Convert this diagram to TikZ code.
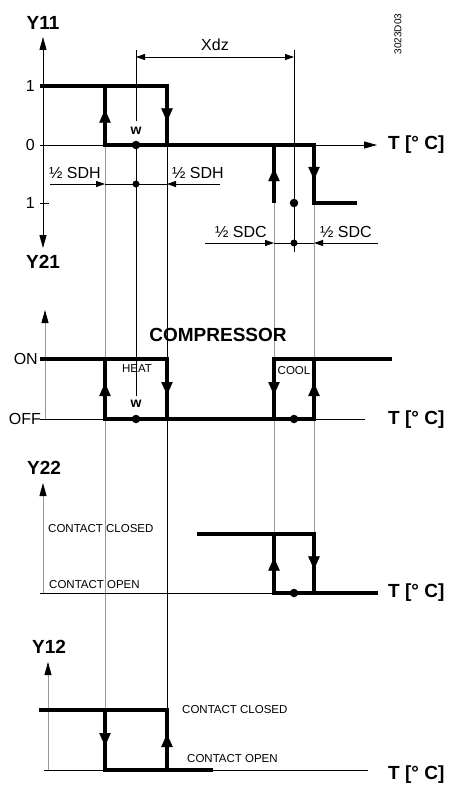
\documentclass[tikz,border=0pt]{standalone}
\usepackage{fontspec}
\setmainfont{Liberation Sans}
\usetikzlibrary{arrows.meta,decorations.markings}
\begin{document}
\begin{tikzpicture}[x=1bp,y=-1bp,
  lbl/.style={font=\fontsize{16bp}{18bp}\selectfont, inner sep=0pt},
  big/.style={font=\fontsize{19bp}{22bp}\selectfont\bfseries, inner sep=0pt},
  small/.style={font=\fontsize{11.5bp}{13bp}\selectfont, inner sep=0pt},
  wlbl/.style={font=\fontsize{14bp}{15bp}\selectfont\bfseries, inner sep=0pt},
  code/.style={font=\fontsize{10bp}{12bp}\selectfont, inner sep=0pt, rotate=90},
  axisline/.style={line width=0.9bp, black},
  guide/.style={line width=0.9bp, black!40},
  thickline/.style={line width=3.5bp, line join=miter},
  axtip/.style={-{Triangle[length=13bp,width=7bp,color=black]}},
  axboth/.style={{Triangle[length=13bp,width=7bp]}-{Triangle[length=13bp,width=7bp]}},
  dimtip/.style={-{Triangle[length=9bp,width=6bp]}},
  dimboth/.style={{Triangle[length=9bp,width=6bp]}-{Triangle[length=9bp,width=6bp]}},
  marrow/.style={postaction={decorate}, decoration={markings, mark=at position 0.6 with {\arrow{Triangle[length=13bp,width=11.5bp]}}}},
  dot/.style={circle, fill, inner sep=0pt, minimum size=8.5bp},
]
\useasboundingbox (0,0) rectangle (449,786);

% guide lines
\draw[guide] (105,145) -- (105,770);
\draw[axisline] (167,145) -- (167,770);
\draw[guide] (274,203) -- (274,534);
\draw[guide] (314,203) -- (314,534);
\draw[axisline] (136,50) -- (136,121);
\draw[axisline] (136,145) -- (136,396);
\draw[axisline] (294,50) -- (294,252);

% Xdz
\draw[axisline, dimboth] (136,57) -- (294,57);
\node[lbl] (xdz) at (215,45) {Xdz};
\node[code] (code) at (398,34) {3023D03};

% ---------- Y11 ----------
\node[big] (y11) at (43,23) {Y11};
\draw[axisline, axboth] (43,37) -- (43,248);
\draw[axisline, axtip] (40,145) -- (377,145);
\draw[axisline] (40,203) -- (49,203);
\node[lbl, anchor=east] (one1) at (35,86) {1};
\node[lbl, anchor=east] (zero1) at (35,145) {0};
\node[lbl, anchor=east] (one2) at (35,203) {1};
\draw[thickline] (40,86) -- (167,86) -- (167,145);
\draw[thickline] (105,86) -- (105,145) -- (314,145) -- (314,203) -- (357,203);
\draw[thickline] (274,145) -- (274,203);
\path[marrow] (105,145) -- (105,86);
\path[marrow] (167,86) -- (167,145);
\path[marrow] (274,203) -- (274,145);
\path[marrow] (314,145) -- (314,203);
\node[dot] (w1) at (136,145) {};
\node[wlbl] (wl1) at (136,131) {w};
\node[dot] (c1) at (294,203) {};
\node[big, anchor=west] (t1) at (388,145) {T [° C]};

% SDH
\draw[axisline, dimtip] (50,184) -- (105,184);
\draw[axisline] (105,184) -- (167,184);
\draw[axisline, dimtip] (220,184) -- (167,184);
\node[dot, minimum size=7bp] (sdh) at (136,184) {};
\node[lbl] (sdhl) at (75,173) {½ SDH};
\node[lbl] (sdhr) at (198,173) {½ SDH};

% SDC
\draw[axisline, dimtip] (205,243) -- (274,243);
\draw[axisline] (274,243) -- (314,243);
\draw[axisline, dimtip] (378,243) -- (314,243);
\node[dot, minimum size=7bp] (sdc) at (294,243) {};
\node[lbl] (sdcl) at (241,232) {½ SDC};
\node[lbl] (sdcr) at (346,232) {½ SDC};

% ---------- Y21 ----------
\node[big] (y21) at (43,262) {Y21};
\draw[guide, axtip] (45,419) -- (45,310);
\node[big] (compr) at (218,335) {COMPRESSOR};
\node[lbl, anchor=east] (on) at (38,359) {ON};
\node[lbl, anchor=east] (off) at (41,419) {OFF};
\draw[axisline] (40,419) -- (365,419);
\draw[thickline] (40,359) -- (167,359) -- (167,419);
\draw[thickline] (105,359) -- (105,419) -- (314,419) -- (314,359);
\draw[thickline] (392,359) -- (274,359) -- (274,419);
\path[marrow] (105,419) -- (105,359);
\path[marrow] (167,359) -- (167,419);
\path[marrow] (274,359) -- (274,419);
\path[marrow] (314,419) -- (314,359);
\node[small] (heat) at (137,369) {HEAT};
\node[small] (cool) at (294,371) {COOL};
\node[dot] (w2) at (136,419) {};
\node[wlbl] (wl2) at (136,404) {w};
\node[dot] (c2) at (294,419) {};
\node[big, anchor=west] (t2) at (388,420) {T [° C]};

% ---------- Y22 ----------
\node[big] (y22) at (44,468) {Y22};
\draw[guide, axtip] (43,593) -- (43,483);
\node[small, anchor=west] (cc1) at (48,529) {CONTACT CLOSED};
\node[small, anchor=west] (co1) at (49,585) {CONTACT OPEN};
\draw[axisline] (40,593) -- (378,593);
\draw[thickline] (197,534) -- (314,534) -- (314,593);
\draw[thickline] (274,534) -- (274,593) -- (378,593);
\path[marrow] (274,593) -- (274,534);
\path[marrow] (314,534) -- (314,593);
\node[dot] (c3) at (294,593) {};
\node[big, anchor=west] (t3) at (388,593) {T [° C]};

% ---------- Y12 ----------
\node[big] (y12) at (49,647) {Y12};
\draw[guide, axtip] (48,770) -- (48,662);
\draw[axisline] (44,770) -- (368,770);
\draw[thickline] (39,710) -- (167,710) -- (167,770);
\draw[thickline] (105,710) -- (105,770) -- (213,770);
\path[marrow] (105,710) -- (105,770);
\path[marrow] (167,770) -- (167,710);
\node[small, anchor=west] (cc2) at (182,710) {CONTACT CLOSED};
\node[small, anchor=west] (co2) at (187,759) {CONTACT OPEN};
\node[big, anchor=west] (t4) at (388,775) {T [° C]};
\end{tikzpicture}
\end{document}
